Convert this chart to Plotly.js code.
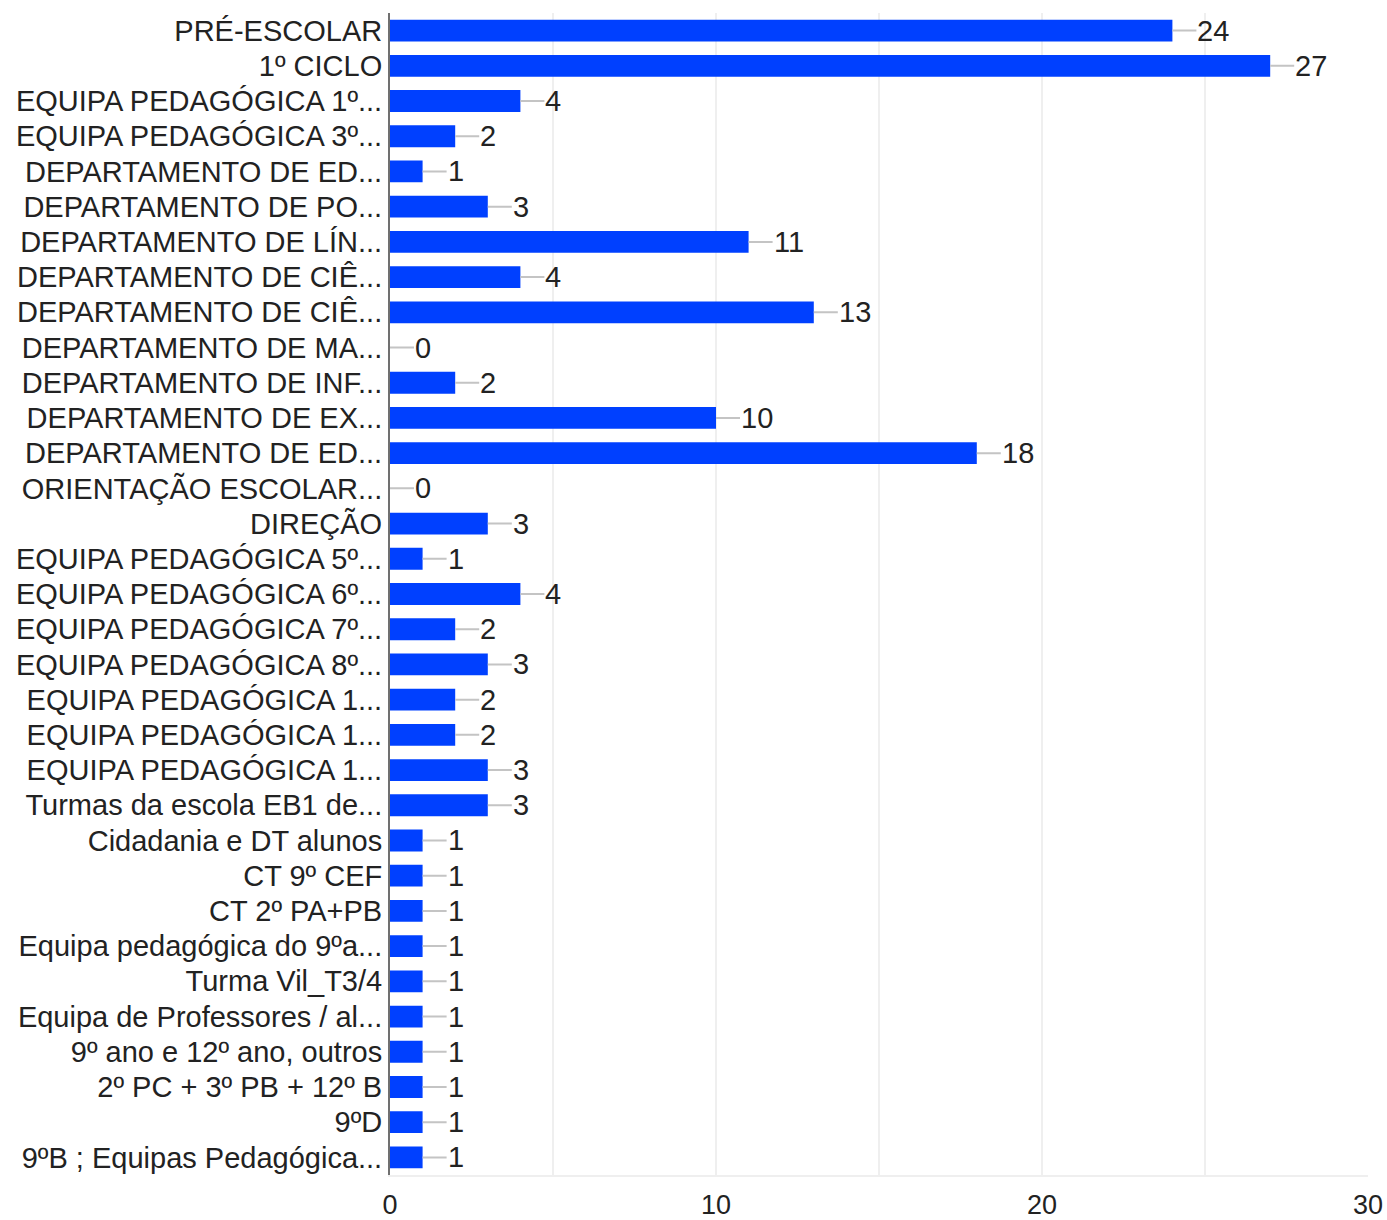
<!DOCTYPE html>
<html>
<head>
<meta charset="utf-8">
<script src="https://cdn.plot.ly/plotly-3.0.1.min.js"></script>
<style>
  html, body { margin: 0; padding: 0; background: #fff; }
  #chart { width: 1387px; height: 1220px; }
</style>
</head>
<body>
<div id="chart"></div>
<script>
const categories = [
  "PRÉ-ESCOLAR",
  "1º CICLO",
  "EQUIPA PEDAGÓGICA 1º...",
  "EQUIPA PEDAGÓGICA 3º...",
  "DEPARTAMENTO DE ED...",
  "DEPARTAMENTO DE PO...",
  "DEPARTAMENTO DE LÍN...",
  "DEPARTAMENTO DE CIÊ...",
  "DEPARTAMENTO DE CIÊ...",
  "DEPARTAMENTO DE MA...",
  "DEPARTAMENTO DE INF...",
  "DEPARTAMENTO DE EX...",
  "DEPARTAMENTO DE ED...",
  "ORIENTAÇÃO ESCOLAR...",
  "DIREÇÃO",
  "EQUIPA PEDAGÓGICA 5º...",
  "EQUIPA PEDAGÓGICA 6º...",
  "EQUIPA PEDAGÓGICA 7º...",
  "EQUIPA PEDAGÓGICA 8º...",
  "EQUIPA PEDAGÓGICA 1...",
  "EQUIPA PEDAGÓGICA 1...",
  "EQUIPA PEDAGÓGICA 1...",
  "Turmas da escola EB1 de...",
  "Cidadania e DT alunos",
  "CT 9º CEF",
  "CT 2º PA+PB",
  "Equipa pedagógica do 9ºa...",
  "Turma Vil_T3/4",
  "Equipa de Professores / al...",
  "9º ano e 12º ano, outros",
  "2º PC + 3º PB + 12º B",
  "9ºD",
  "9ºB ; Equipas Pedagógica..."
];
const values = [24, 27, 4, 2, 1, 3, 11, 4, 13, 0, 2, 10, 18, 0, 3, 1, 4, 2, 3, 2, 2, 3, 3, 1, 1, 1, 1, 1, 1, 1, 1, 1, 1];
const xTickVals = [0, 10, 20, 30];

const positions = categories.map((c, i) => i);
const FONT = '"Liberation Sans", Arial, sans-serif';

const trace = {
  type: 'bar',
  orientation: 'h',
  x: values,
  y: positions,
  marker: { color: '#0040ff' },
  hoverinfo: 'none'
};

const annotations = values.map((v, i) => ({
  x: v,
  y: i,
  xref: 'x',
  yref: 'y',
  text: String(v),
  showarrow: true,
  arrowhead: 0,
  arrowwidth: 2,
  arrowcolor: '#c4c4c4',
  ax: 24,
  ay: 0,
  xanchor: 'left',
  borderpad: 0,
  standoff: 0,
  font: { family: FONT, size: 29, color: '#222' }
}));

const layout = {
  width: 1387,
  height: 1220,
  margin: { l: 390, r: 19, t: 13, b: 45 },
  paper_bgcolor: '#fff',
  plot_bgcolor: '#fff',
  showlegend: false,
  bargap: 0.38,
  font: { family: FONT, size: 29, color: '#222' },
  xaxis: {
    range: [0, 30],
    tickvals: xTickVals,
    ticktext: xTickVals.map(String),
    showgrid: true,
    gridcolor: '#efefef',
    gridwidth: 2,
    minor: { dtick: 5, tick0: 0, showgrid: true, gridcolor: '#efefef', gridwidth: 2 },
    zeroline: false,
    showline: true,
    linecolor: '#efefef',
    linewidth: 2,
    ticks: 'outside',
    ticklen: 5,
    tickcolor: 'rgba(0,0,0,0)',
    tickfont: { family: FONT, size: 27, color: '#222' },
    fixedrange: true
  },
  yaxis: {
    range: [categories.length - 0.5, -0.5],
    tickvals: positions,
    ticktext: categories,
    showgrid: false,
    zeroline: false,
    showline: true,
    linecolor: '#707070',
    linewidth: 2,
    ticks: '',
    tickfont: { family: FONT, size: 29, color: '#222' },
    fixedrange: true
  },
  annotations: annotations
};

Plotly.newPlot('chart', [trace], layout, { staticPlot: true, displayModeBar: false });
</script>
</body>
</html>
